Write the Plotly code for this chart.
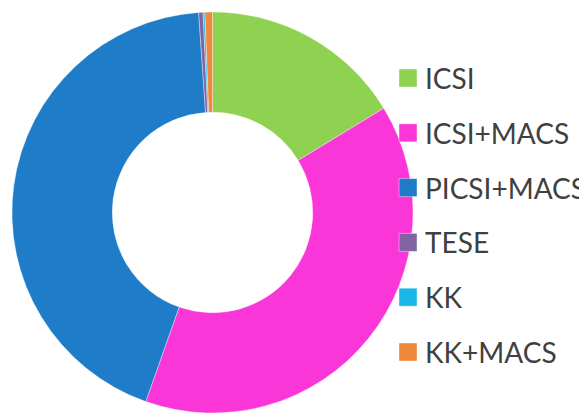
import plotly.graph_objects as go

labels = ["ICSI", "ICSI+MACS", "PICSI+MACS", "TESE", "KK", "KK+MACS"]
values = [16.3, 39.1, 43.5, 0.35, 0.15, 0.6]
colors = ["#8FD150", "#FA36D8", "#1F7CC9", "#8064A2", "#19B8E8", "#F0883A"]

W, H = 587, 414
OFF = 8  # page body margin
cx, cy, r = 212.5 - OFF, 212.5 - OFF, 200.5

fig = go.Figure(go.Pie(
    labels=labels,
    values=values,
    hole=0.5,
    sort=False,
    direction="clockwise",
    rotation=0,
    textinfo="none",
    showlegend=False,
    marker=dict(colors=colors, line=dict(color="rgba(255,255,255,0.6)", width=0.6)),
    domain=dict(x=[(cx - r) / W, (cx + r) / W],
                y=[(H - cy - r) / H, (H - cy + r) / H]),
))

# legend drawn as shapes + text (layout only)
leg_x0, leg_size, leg_y0, leg_step = 399 - OFF, 18, 78 - OFF, 54.8
text_x = 423 - OFF
shapes, annos = [], []
for i, (lab, col) in enumerate(zip(labels, colors)):
    yc = leg_y0 + i * leg_step
    shapes.append(dict(
        type="rect", xref="paper", yref="paper",
        x0=leg_x0 / W, x1=(leg_x0 + leg_size) / W,
        y0=1 - (yc + leg_size / 2) / H, y1=1 - (yc - leg_size / 2) / H,
        fillcolor=col, line=dict(color="rgba(255,255,255,0.5)", width=0.8),
    ))
    annos.append(dict(
        xref="paper", yref="paper", x=text_x / W, y=1 - yc / H,
        xanchor="left", yanchor="middle", text=lab, showarrow=False,
        font=dict(family="Lato", size=28, color="#404040"),
    ))

fig.update_layout(
    width=W, height=H,
    margin=dict(l=0, r=0, t=0, b=0),
    paper_bgcolor="white",
    plot_bgcolor="white",
    shapes=shapes,
    annotations=annos,
)

fig.write_html("out.html")
